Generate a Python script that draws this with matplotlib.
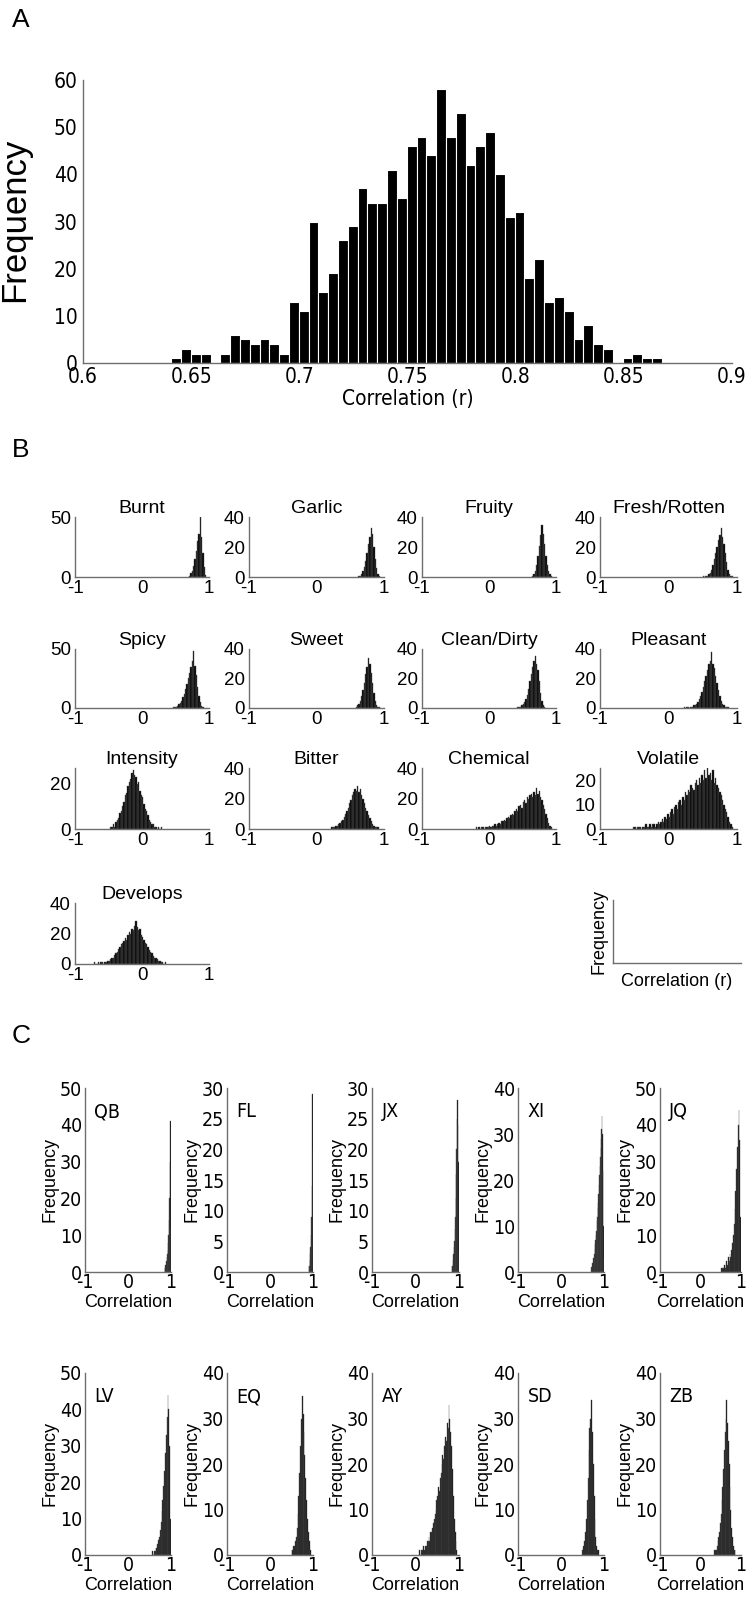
import numpy as np
import matplotlib
matplotlib.use("Agg")
import matplotlib.pyplot as plt
from matplotlib import font_manager

# --- Daten Panel A: Histogramm der Korrelationen ---
a_start = 0.6408     # linke Kante des ersten Balkens
a_step = 0.004535    # Balkenbreite
a_counts = [1, 3, 2, 2, 0, 2, 6, 5, 4, 5, 4, 2, 13, 11, 30, 15, 19, 26, 29, 37,
            34, 34, 41, 35, 46, 48, 44, 58, 48, 53, 42, 46, 49, 40, 31, 32, 18, 22, 13, 14,
            11, 5, 8, 4, 3, 0, 1, 2, 1, 1]
a_xticks = [0.6, 0.65, 0.7, 0.75, 0.8, 0.85, 0.9]
a_xticklabels = ["0.6", "0.65", "0.7", "0.75", "0.8", "0.85", "0.9"]

# --- Daten Panel B: Deskriptoren (Bins 0.02 breit) ---
b_step = 0.02
burnt = [1, 3, 5, 9, 15, 22, 30, 36, 50, 33, 20, 8, 2]
garlic = [1, 1, 2, 4, 7, 11, 16, 22, 27, 33, 29, 20, 12, 6, 2, 1]
fruity = [1, 2, 4, 8, 14, 21, 28, 35, 29, 22, 14, 8, 4, 2, 1]
fresh = [1, 0, 1, 1, 2, 3, 5, 8, 12, 16, 20, 25, 28, 33, 27, 22, 16, 10, 5, 2, 1, 1]
spicy = [1, 1, 1, 2, 3, 4, 6, 9, 12, 16, 20, 25, 30, 35, 40, 48, 36, 28, 18, 10, 5, 2, 1]
sweet = [1, 2, 3, 5, 8, 12, 17, 23, 28, 34, 30, 24, 17, 10, 5, 2, 1, 1]
clean = [1, 1, 1, 2, 3, 4, 6, 9, 13, 18, 23, 28, 32, 35, 30, 26, 18, 10, 5, 2, 1]
pleasant = [1, 0, 1, 1, 0, 1, 1, 2, 2, 3, 4, 6, 8, 11, 14, 18, 22, 26, 30, 32, 38, 30, 27,
            22, 17, 12, 8, 5, 3, 2, 1, 1, 1]
intensity = [1, 1, 2, 1, 3, 4, 5, 7, 8, 10, 12, 15, 16, 19, 21, 22, 25, 26, 24, 23, 20, 21,
             17, 15, 14, 11, 9, 8, 6, 4, 3, 2, 2, 1, 1, 0, 1, 0, 1]
bitter = [1, 1, 1, 2, 2, 3, 4, 5, 6, 8, 10, 12, 14, 17, 19, 22, 24, 26, 25, 28, 24, 26, 22,
          20, 17, 14, 12, 9, 7, 5, 3, 2, 1, 1, 1]
chemical = [1, 0, 1, 0, 1, 1, 0, 1, 1, 1, 2, 1, 2, 2, 3, 2, 3, 4, 3, 5, 5, 6, 5, 7, 8, 7, 9,
            10, 9, 12, 13, 12, 15, 16, 14, 18, 19, 17, 21, 20, 22, 23, 21, 24, 22, 27, 23,
            25, 21, 19, 16, 13, 10, 7, 4, 2, 1]
volatile = [1, 1, 0, 1, 1, 1, 0, 1, 1, 2, 1, 1, 2, 1, 2, 2, 1, 2, 3, 2, 3, 4, 3, 5, 4, 6,
            5, 7, 8, 6, 9, 10, 8, 11, 12, 10, 13, 12, 15, 14, 16, 15, 18, 17, 16, 19, 20, 18,
            21, 19, 22, 20, 24, 21, 25, 22, 23, 20, 24, 19, 21, 18, 17, 15, 14, 12, 10, 8, 7,
            5, 3, 2, 1]
develops = [1, 0, 0, 1, 0, 1, 1, 0, 1, 1, 2, 2, 3, 4, 4, 6, 7, 8, 10, 11, 13, 14, 15, 17,
            16, 19, 21, 20, 23, 22, 25, 28, 24, 22, 23, 19, 18, 16, 14, 13, 11, 9, 8, 7, 5,
            4, 4, 3, 2, 2, 1, 1, 0, 1]

b_names = ["Burnt", "Garlic", "Fruity", "Fresh/Rotten", "Spicy", "Sweet", "Clean/Dirty",
           "Pleasant", "Intensity", "Bitter", "Chemical", "Volatile", "Develops"]
b_counts = [burnt, garlic, fruity, fresh, spicy, sweet, clean, pleasant, intensity,
            bitter, chemical, volatile, develops]
b_start = [0.70, 0.62, 0.64, 0.50, 0.46, 0.58, 0.42, 0.22, -0.48, 0.22, -0.20, -0.52, -0.72]
b_ymax = [50, 40, 40, 40, 50, 40, 40, 40, 27, 40, 40, 25, 40]
b_yticks = [[0, 50], [0, 20, 40], [0, 20, 40], [0, 20, 40], [0, 50], [0, 20, 40],
            [0, 20, 40], [0, 20, 40], [0, 20], [0, 20, 40], [0, 20, 40], [0, 10, 20],
            [0, 20, 40]]

# --- Daten Panel C: einzelne Probanden ---
qb = [1, 1, 2, 2, 3, 4, 5, 6, 8, 10, 14, 20, 30, 41, 12]
fl = [1, 1, 2, 3, 4, 6, 9, 14, 29, 20]
jx = [1, 1, 2, 3, 4, 5, 7, 9, 12, 16, 20, 25, 28, 24, 18, 3]
xi = [1, 1, 1, 2, 2, 3, 3, 4, 5, 6, 7, 8, 9, 11, 12, 14, 15, 17, 19, 21, 23, 25, 27, 29,
      31, 34, 30, 22, 10, 3]
jq = [1, 0, 1, 1, 2, 1, 2, 3, 2, 4, 3, 5, 4, 6, 8, 10, 13, 17, 22, 28, 34, 40, 44, 36, 15]
lv = [1, 0, 1, 1, 2, 2, 3, 4, 5, 7, 9, 12, 15, 19, 23, 28, 33, 38, 44, 40, 30, 10]
eq = [1, 1, 2, 2, 3, 4, 6, 9, 13, 18, 24, 30, 35, 31, 27, 22, 17, 12, 8, 5, 3, 1, 1]
ay = [1, 0, 1, 1, 1, 2, 1, 2, 2, 3, 3, 4, 3, 5, 5, 6, 7, 8, 9, 10, 12, 13, 15, 14, 17, 18,
      20, 22, 21, 24, 26, 25, 29, 28, 33, 30, 27, 24, 19, 13, 8, 5, 3, 1]
sd = [1, 1, 2, 3, 5, 8, 12, 17, 23, 28, 30, 34, 27, 20, 13, 8, 4, 2, 1, 1]
zb = [1, 1, 1, 2, 3, 4, 5, 7, 9, 12, 15, 19, 23, 27, 30, 34, 29, 25, 20, 15, 10, 6, 4, 2,
      1, 1]

c_names = ["QB", "FL", "JX", "XI", "JQ", "LV", "EQ", "AY", "SD", "ZB"]
c_counts = [qb, fl, jx, xi, jq, lv, eq, ay, sd, zb]
c_start = [0.85, 0.90, 0.84, 0.70, 0.50, 0.56, 0.50, 0.08, 0.48, 0.34]
c_step = [0.01, 0.01, 0.01, 0.01, 0.02, 0.02, 0.02, 0.02, 0.02, 0.02]
c_ymax = [50, 30, 30, 40, 50, 50, 40, 40, 40, 40]
c_ystep = [10, 5, 5, 10, 10, 10, 10, 10, 10, 10]

# --- Schriften: schmale Schrift suchen, sonst Liberation Sans ---
plt.rcParams["font.family"] = ["Liberation Sans", "DejaVu Sans"]
narrow_file = None
for f in font_manager.fontManager.ttflist:
    fn = f.fname.lower()
    if "narrow" in fn and "liberation" in fn and "bold" not in fn and "italic" not in fn:
        narrow_file = f.fname
        break
if narrow_file is None:
    for f in font_manager.fontManager.ttflist:
        fn = f.fname.lower()
        if "condensed" in fn and "bold" not in fn and "oblique" not in fn and "italic" not in fn:
            narrow_file = f.fname
            break


def nfont(size):
    if narrow_file:
        return font_manager.FontProperties(fname=narrow_file, size=size)
    return font_manager.FontProperties(family="Liberation Sans", size=size * 0.92)


W, H = 748, 1604
fig = plt.figure(figsize=(W / 100, H / 100), dpi=100)
grey = "#6e6e6e"


def add_ax(x0, y0, x1, y1):
    # Achsen in Pixelkoordinaten (oben links = 0,0)
    return fig.add_axes([x0 / W, 1 - y1 / H, (x1 - x0) / W, (y1 - y0) / H])


def style(ax):
    for s in ["top", "right"]:
        ax.spines[s].set_visible(False)
    for s in ["left", "bottom"]:
        ax.spines[s].set_color(grey)
        ax.spines[s].set_linewidth(1.0)
    ax.tick_params(length=0, pad=1)


def hist(ax, start, step, counts):
    x = start + step * np.arange(len(counts))
    ax.bar(x, counts, width=step, align="edge", color="black",
           edgecolor="#555555", linewidth=0.3)


# ---------- Panel A ----------
axA = add_ax(83, 80, 732, 363)
style(axA)
xa = a_start + a_step * np.arange(len(a_counts))
axA.bar(xa, a_counts, width=a_step, align="edge", color="black",
        edgecolor="white", linewidth=0.8)
axA.set_xlim(0.6, 0.9)
axA.set_ylim(0, 60)
axA.set_xticks(a_xticks)
axA.set_xticklabels(a_xticklabels, fontproperties=nfont(15))
axA.set_yticks(range(0, 61, 10))
axA.set_yticklabels([str(v) for v in range(0, 61, 10)], fontproperties=nfont(15))
axA.tick_params(axis="x", pad=3)
axA.tick_params(axis="y", pad=4)
axA.set_xlabel("Correlation (r)", fontproperties=nfont(15), labelpad=1)
fig.text(15 / W, 1 - 220 / H, "Frequency", rotation=90, fontsize=25,
         ha="center", va="center")
fig.text(12 / W, 1 - 20 / H, "A", fontsize=19, ha="left", va="center")

# ---------- Panel B ----------
fig.text(12 / W, 1 - 450 / H, "B", fontsize=19, ha="left", va="center")
b_cols = [(75, 209), (249, 384), (422, 556), (600, 737)]
b_rows = [(517, 577), (649, 708), (768, 829), (903, 964)]
for i, name in enumerate(b_names):
    r, c = divmod(i, 4)
    ax = add_ax(b_cols[c][0], b_rows[r][0], b_cols[c][1], b_rows[r][1])
    style(ax)
    hist(ax, b_start[i], b_step, b_counts[i])
    ax.set_xlim(-1, 1)
    ax.set_ylim(0, b_ymax[i])
    ax.set_xticks([-1, 0, 1])
    ax.set_xticklabels(["-1", "0", "1"], fontsize=13.5)
    ax.set_yticks(b_yticks[i])
    ax.set_yticklabels([str(v) for v in b_yticks[i]], fontsize=13.5)
    ax.tick_params(axis="y", pad=3)
    ax.tick_params(axis="x", pad=2)
    ax.set_title(name, fontsize=14, pad=3)

# kleine Legendenachse unten rechts
axL = add_ax(613, 900, 741, 963)
style(axL)
axL.set_xticks([])
axL.set_yticks([])
axL.set_xlabel("Correlation (r)", fontsize=13, labelpad=7)
axL.set_ylabel("Frequency", fontsize=13, labelpad=4)

# ---------- Panel C ----------
fig.text(12 / W, 1 - 1036 / H, "C", fontsize=19, ha="left", va="center")
c_cols = [(85, 171), (227, 313), (372, 459), (518, 604), (660, 741)]
c_rows = [(1088, 1272), (1373, 1555)]
for i, name in enumerate(c_names):
    r, c = divmod(i, 5)
    ax = add_ax(c_cols[c][0], c_rows[r][0], c_cols[c][1], c_rows[r][1])
    style(ax)
    hist(ax, c_start[i], c_step[i], c_counts[i])
    ax.set_xlim(-1, 1)
    ax.set_ylim(0, c_ymax[i])
    ax.set_xticks([-1, 0, 1])
    ax.set_xticklabels(["-1", "0", "1"], fontproperties=nfont(14))
    yt = list(range(0, c_ymax[i] + 1, c_ystep[i]))
    ax.set_yticks(yt)
    ax.set_yticklabels([str(v) for v in yt], fontproperties=nfont(14))
    ax.tick_params(axis="y", pad=2)
    ax.set_xlabel("Correlation", fontsize=13, labelpad=1)
    ax.set_ylabel("Frequency", fontsize=13, labelpad=1)
    ax.text(-0.78, 0.87, name, transform=ax.get_xaxis_transform(),
            fontproperties=nfont(14), ha="left", va="center")

fig.savefig("out.png", dpi=100)
